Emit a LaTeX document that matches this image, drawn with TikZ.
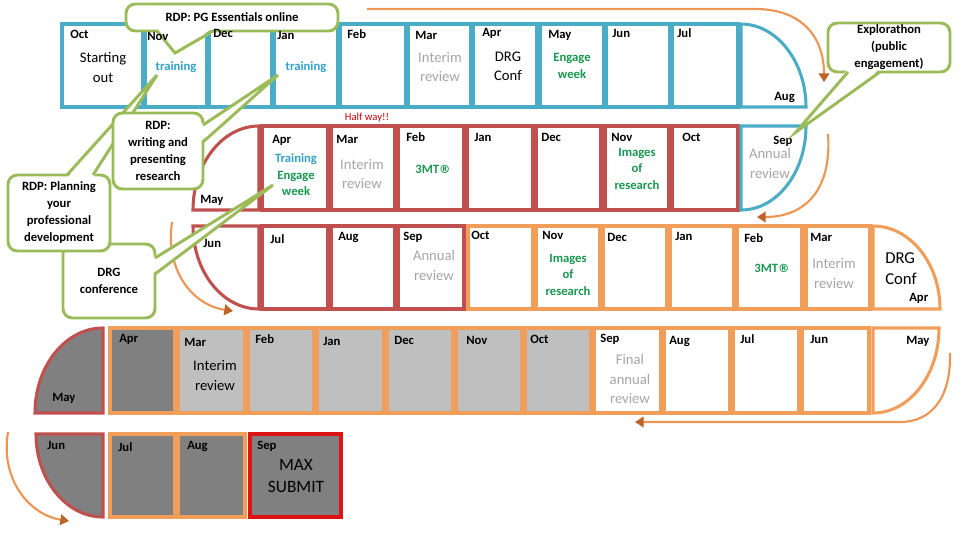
\documentclass[tikz,border=0pt]{standalone}
\usepackage{fontspec}
\setmainfont{Carlito}
\newfontfamily\symf{DejaVu Sans}
\usetikzlibrary{arrows.meta}
\definecolor{tealc}{RGB}{75,172,198}
\definecolor{redc}{RGB}{192,80,77}
\definecolor{orc}{RGB}{240,158,90}
\definecolor{arrc}{RGB}{235,150,85}
\definecolor{tipc}{RGB}{190,100,40}
\definecolor{grc}{RGB}{155,187,89}
\definecolor{dgray}{RGB}{128,128,128}
\definecolor{lgray}{RGB}{191,191,191}
\definecolor{txgray}{RGB}{166,166,166}
\definecolor{txteal}{RGB}{49,163,200}
\definecolor{txgreen}{RGB}{25,150,80}
\definecolor{txred}{RGB}{192,0,0}
\definecolor{subred}{RGB}{220,20,20}
\newcommand\mb[6]{%
  \pgfmathsetmacro\mbw{(#5-#3)*0.75}%
  \pgfmathsetmacro\mbh{(#6-#4)*0.75}%
  \node[box,#2,minimum width=\mbw pt,minimum height=\mbh pt] (#1) at ({(#3+#5)/2},{(#4+#6)/2}) {};}
\newcommand\cb[6]{%
  \pgfmathsetmacro\mbw{(#4-#2)*0.75}%
  \pgfmathsetmacro\mbh{(#5-#3)*0.75}%
  \node[callout,minimum width=\mbw pt,minimum height=\mbh pt] (#1) at ({(#2+#4)/2},{(#3+#5)/2}) {#6};}
\newcommand\tmt{3MT{\symf\fontsize{8.5}{10}\selectfont ®}}
\begin{document}
\begin{tikzpicture}[x=0.75pt,y=-0.75pt,
  box/.style={draw, line width=2.3pt, inner sep=0pt, outer sep=0pt, fill=white},
  tbox/.style={draw=tealc}, rbox/.style={draw=redc}, obox/.style={draw=orc},
  qs/.style={line width=2.3pt, fill=white},
  mon/.style={anchor=west, inner sep=0pt, font=\fontsize{9.5}{11}\selectfont\bfseries},
  txt/.style={align=center, inner sep=0pt, font=\fontsize{11}{14.5}\selectfont},
  gtxt/.style={txt, text=txgray},
  hl/.style={align=center, inner sep=0pt, font=\fontsize{9.5}{12.4}\selectfont\bfseries},
  callout/.style={draw=grc, line width=2.2pt, fill=white, rounded corners=7pt, inner sep=0pt, align=center, font=\fontsize{9.5}{12.75}\selectfont\bfseries},
  cline/.style={draw=grc, line width=2.2pt, line join=miter},
  flow/.style={draw=arrc, line width=1.6pt, -{Triangle[length=6.5pt,width=8pt,color=tipc]}}]
\useasboundingbox (0,0) rectangle (960,540);

% ---------- row 1 (teal)
\mb{oct1}{tbox}{62}{24}{143}{107}
\mb{nov1}{tbox}{145}{24}{207}{107}
\mb{dec1}{tbox}{209}{24}{272}{107}
\mb{jan1}{tbox}{274}{24}{338}{107}
\mb{feb1}{tbox}{340}{24}{406}{107}
\mb{mar1}{tbox}{408}{24}{471}{107}
\mb{apr1}{tbox}{473}{24}{537}{107}
\mb{may1}{tbox}{540}{24}{604}{107}
\mb{jun1}{tbox}{606}{24}{670}{107}
\mb{jul1}{tbox}{672}{24}{738}{107}
\draw[qs,draw=tealc] (741,24) .. controls (776.3,24) and (806,61.2) .. (806,107) -- (741,107) -- cycle;

% ---------- row 2 top (red)
\draw[qs,draw=redc] (259,210) -- (259,126) .. controls (222.5,126) and (193,163.6) .. (193,210) -- cycle;
\mb{apr2}{rbox}{262}{126}{328}{210}
\mb{mar2}{rbox}{331}{126}{395}{210}
\mb{feb2}{rbox}{398}{126}{464}{210}
\mb{jan2}{rbox}{467}{126}{533}{210}
\mb{dec2}{rbox}{536}{126}{601}{210}
\mb{nov2}{rbox}{605}{126}{669}{210}
\mb{oct2}{rbox}{672}{126}{738}{210}
\draw[qs,draw=tealc] (741,126) -- (806,126) .. controls (806,172.4) and (776.9,210) .. (741,210) -- cycle;

% ---------- row 2 bottom
\draw[qs,draw=redc] (193,226) -- (259,226) -- (259,309) .. controls (222.5,309) and (193,271.8) .. (193,226) -- cycle;
\mb{jul2}{rbox}{262}{226}{328}{309}
\mb{aug2}{rbox}{331}{226}{395}{309}
\mb{sep2}{rbox}{398}{226}{464}{309}
\mb{oct3}{obox}{468}{226}{533}{309}
\mb{nov3}{obox}{536}{226}{600}{309}
\mb{dec3}{obox}{603}{226}{667}{309}
\mb{jan3}{obox}{670}{226}{734}{309}
\mb{feb3}{obox}{737}{226}{802}{309}
\mb{mar3}{obox}{806}{226}{870}{309}
\draw[qs,draw=orc] (873,309) -- (873,226) .. controls (910,226) and (940,263.2) .. (940,309) -- cycle;

% ---------- row 3
\draw[qs,draw=redc,fill=dgray] (103,413) -- (103,328) .. controls (65.4,328) and (35,366.1) .. (35,413) -- cycle;
\mb{apr4}{obox,fill=dgray}{110}{328}{175}{413}
\mb{mar4}{obox,fill=lgray}{178}{328}{245}{413}
\mb{feb4}{obox,fill=lgray}{248}{328}{314}{413}
\mb{jan4}{obox,fill=lgray}{317}{328}{384}{413}
\mb{dec4}{obox,fill=lgray}{387}{328}{453}{413}
\mb{nov4}{obox,fill=lgray}{456}{328}{522}{413}
\mb{oct4}{obox,fill=lgray}{525}{328}{591}{413}
\mb{sep4}{obox}{594}{328}{661}{413}
\mb{aug4}{obox}{664}{328}{730}{413}
\mb{jul4}{obox}{733}{328}{799}{413}
\mb{jun4}{obox}{802}{328}{869}{413}
\draw[qs,draw=orc] (873,413) -- (873,328) -- (939,328) .. controls (939,375) and (909.5,413) .. (873,413) -- cycle;

% ---------- row 4
\draw[qs,draw=redc,fill=dgray] (36,434) -- (103,434) -- (103,517) .. controls (66,517) and (36,479.4) .. (36,434) -- cycle;
\mb{jul5}{obox,fill=dgray}{110}{434}{175}{517}
\mb{aug5}{obox,fill=dgray}{178}{434}{245}{517}
\mb{sep5}{fill=dgray,draw=subred}{250}{434}{341}{517}

% ---------- flow arrows
\coordinate (a1s) at (367,9); \coordinate (a1m) at (755,9); \coordinate (a1e) at (824,82);
\draw[flow] (a1s) -- (a1m) .. controls (803,9) and (824,38) .. (a1e);
\coordinate (a2s) at (828,134); \coordinate (a2e) at (757,217);
\draw[flow] (a2s) .. controls (832,190) and (805,217) .. (a2e);
\coordinate (a3s) at (172,222); \coordinate (a3e) at (233,311);
\draw[flow] (a3s) .. controls (165,270) and (192,305) .. (a3e);
\coordinate (a4s) at (950,353); \coordinate (a4m) at (900,422); \coordinate (a4e) at (635,422);
\draw[flow] (a4s) .. controls (951,400) and (930,422) .. (a4m) -- (a4e);
\coordinate (a5s) at (8,432); \coordinate (a5e) at (69,521);
\draw[flow] (a5s) .. controls (0,480) and (30,515) .. (a5e);

% ---------- PG callout (drawn below the row-1 labels)
\cb{c-pg}{126}{4}{338}{31}{RDP: PG Essentials online}
\coordinate (tip-pg) at (175,53);
\fill[white] (157,28) -- (tip-pg) -- (213,28) -- cycle;
\draw[cline] (157,31) -- (tip-pg) -- (213,31);

% ---------- texts row 1
\node[mon] (l-oct1) at (70,34) {Oct};
\node[txt] (l-start) at (103,67.5) {Starting\\out};
\node[mon] (l-nov1) at (147,36) {Nov};
\node[hl,text=txteal] (l-tr1) at (176,67) {training};
\node[mon] (l-dec1) at (213,33) {Dec};
\node[mon] (l-jan1) at (277,35) {Jan};
\node[hl,text=txteal] (l-tr2) at (306,67) {training};
\node[mon] (l-feb1) at (347,34) {Feb};
\node[mon] (l-mar1) at (415,35) {Mar};
\node[gtxt] (l-int1) at (440,67) {Interim\\review};
\node[mon] (l-apr1) at (482,33) {Apr};
\node[txt] (l-drg1) at (508,66.5) {DRG\\Conf};
\node[mon] (l-may1) at (548,35) {May};
\node[hl,text=txgreen] (l-eng1) at (572,66) {Engage\\week};
\node[mon] (l-jun1) at (612,33) {Jun};
\node[mon] (l-jul1) at (677,33) {Jul};
\node[mon] (l-aug1) at (774,97) {Aug};

% ---------- texts row 2 top
\node[inner sep=0pt,font=\fontsize{8}{9}\selectfont,text=txred] (half) at (367,118) {Half way!!};
\node[mon] (l-may2) at (200,200) {May};
\node[mon] (l-apr2) at (272,140) {Apr};
\node[hl,text=txgreen] (l-eng2) at (296,175) {\textcolor{txteal}{Training}\\Engage\\week};
\node[mon] (l-mar2) at (336,139) {Mar};
\node[gtxt] (l-int2) at (362,174) {Interim\\review};
\node[mon] (l-feb2) at (406,137) {Feb};
\node[hl,text=txgreen] (l-3mt1) at (433,169) {\tmt};
\node[mon] (l-jan2) at (474,137) {Jan};
\node[mon] (l-dec2) at (541,137) {Dec};
\node[mon] (l-nov2) at (611,137) {Nov};
\node[hl,text=txgreen] (l-img1) at (637,168.5) {Images\\of\\research};
\node[mon] (l-oct2) at (682,137) {Oct};
\node[mon] (l-sep2) at (773,141) {Sep};
\node[gtxt] (l-ann1) at (770,163.5) {Annual\\review};

% ---------- texts row 2 bottom
\node[mon] (l-jun2) at (203,243) {Jun};
\node[mon] (l-jul2) at (270,239) {Jul};
\node[mon] (l-aug2) at (338,237) {Aug};
\node[mon] (l-sep3) at (403,237) {Sep};
\node[gtxt] (l-ann2) at (434,265.5) {Annual\\review};
\node[mon] (l-oct3) at (471,235) {Oct};
\node[mon] (l-nov3) at (542,235) {Nov};
\node[hl,text=txgreen] (l-img2) at (568,274.5) {Images\\of\\research};
\node[mon] (l-dec3) at (607,237) {Dec};
\node[mon] (l-jan3) at (675,236) {Jan};
\node[mon] (l-feb3) at (744,238) {Feb};
\node[hl,text=txgreen] (l-3mt2) at (772,268) {\tmt};
\node[mon] (l-mar3) at (810,237) {Mar};
\node[gtxt] (l-int3) at (834,273.5) {Interim\\review};
\node[txt,align=left,anchor=west,font=\fontsize{12.5}{15.75}\selectfont] (l-drg2) at (885,268.5) {DRG\\Conf};
\node[mon] (l-apr3) at (909,298) {Apr};

% ---------- texts row 3
\node[mon] (l-may4) at (52,398) {May};
\node[mon] (l-apr4) at (119,339) {Apr};
\node[mon] (l-mar4) at (184,342) {Mar};
\node[txt] (l-int4) at (215,375.5) {Interim\\review};
\node[mon] (l-feb4) at (255,339) {Feb};
\node[mon] (l-jan4) at (323,341) {Jan};
\node[mon] (l-dec4) at (394,340) {Dec};
\node[mon] (l-nov4) at (466,340) {Nov};
\node[mon] (l-oct4) at (530,339) {Oct};
\node[mon] (l-sep4) at (600,339) {Sep};
\node[gtxt] (l-fin) at (630,379) {Final\\annual\\review};
\node[mon] (l-aug4) at (669,341) {Aug};
\node[mon] (l-jul4) at (740,339) {Jul};
\node[mon] (l-jun4) at (810,339) {Jun};
\node[mon] (l-may5) at (906,341) {May};

% ---------- texts row 4
\node[mon] (l-jun5) at (47,445) {Jun};
\node[mon] (l-jul5) at (118,447) {Jul};
\node[mon] (l-aug5) at (187,446) {Aug};
\node[mon] (l-sep5) at (257,446) {Sep};
\node[txt,font=\fontsize{13}{16.5}\selectfont] (l-max) at (296,476) {MAX\\SUBMIT};

% ---------- callouts
\cb{c-drg}{63}{244}{155}{318}{DRG\\conference}
\coordinate (tip-drg) at (273,185);
\fill[white] (152,258) -- (tip-drg) -- (152,274) -- cycle;
\draw[cline] (155,258) -- (tip-drg) -- (155,274);

\cb{c-plan}{8}{175}{110}{251}{RDP: Planning\\your\\professional\\development}
\coordinate (tip-plan) at (157,75);
\fill[white] (67,178) -- (tip-plan) -- (93,178) -- cycle;
\draw[cline] (67,175) -- (tip-plan) -- (93,175);

\cb{c-write}{113}{113}{203}{189}{RDP:\\writing and\\presenting\\research}
\coordinate (tip-write) at (278,75);
\fill[white] (200,125) -- (tip-write) -- (200,142) -- cycle;
\draw[cline] (203,125) -- (tip-write) -- (203,142);

\cb{c-exp}{828}{23}{950}{72}{Explorathon\\(public\\engagement)}
\coordinate (tip-exp) at (796,132);
\fill[white] (848,69) -- (tip-exp) -- (880,69) -- cycle;
\draw[cline] (848,72) -- (tip-exp) -- (880,72);
\end{tikzpicture}
\end{document}
